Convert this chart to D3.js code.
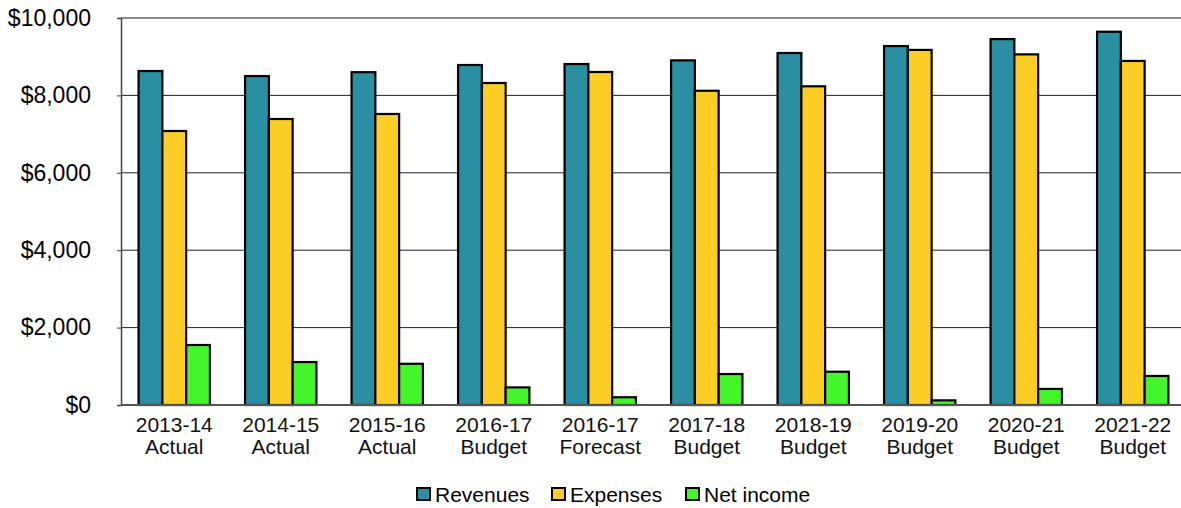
<!DOCTYPE html>
<html>
<head>
<meta charset="utf-8">
<script src="https://cdn.jsdelivr.net/npm/d3@7/dist/d3.min.js"></script>
<style>
  html, body { margin: 0; padding: 0; background: #fff; }
  svg { display: block; }
</style>
</head>
<body>
<div id="chart"></div>
<script>
// Fiscal years and their status
const years = ["2013-14", "2014-15", "2015-16", "2016-17", "2016-17", "2017-18", "2018-19", "2019-20", "2020-21", "2021-22"];
const statuses = ["Actual", "Actual", "Actual", "Budget", "Forecast", "Budget", "Budget", "Budget", "Budget", "Budget"];

// Values in $ millions
const revenues = [8630, 8500, 8600, 8785, 8810, 8905, 9095, 9275, 9455, 9645];
const expenses = [7080, 7390, 7520, 8320, 8605, 8120, 8235, 9175, 9060, 8890];
const netIncome = [1550, 1110, 1065, 455, 200, 800, 860, 120, 415, 750];

const seriesNames = ["Revenues", "Expenses", "Net income"];
const seriesColors = ["#2A8FA3", "#FCCD25", "#44F52C"];
const yTicks = [0, 2000, 4000, 6000, 8000, 10000];

const W = 1181, H = 508;
const margin = { left: 121, top: 18, bottom: 103 };
const plotW = 1065, plotH = H - margin.top - margin.bottom;

const svg = d3.select("#chart").append("svg")
  .attr("width", W).attr("height", H);

const g = svg.append("g").attr("transform", `translate(${margin.left},${margin.top})`);

const idx = d3.range(years.length);
const x0 = d3.scaleBand().domain(idx).range([0, plotW]).paddingInner(0.33).paddingOuter(0.165);
const x1 = d3.scaleBand().domain(seriesNames).range([0, x0.bandwidth()]);
const y = d3.scaleLinear().domain([0, 10000]).range([plotH, 0]);

// Horizontal gridlines
g.append("g").selectAll("line")
  .data(yTicks.filter(t => t > 0 && t < 10000))
  .join("line")
  .attr("x1", 0).attr("x2", plotW)
  .attr("y1", d => y(d)).attr("y2", d => y(d))
  .attr("stroke", "#222").attr("stroke-width", 1);

// Top border
g.append("line")
  .attr("x1", 0).attr("x2", plotW)
  .attr("y1", y(10000)).attr("y2", y(10000))
  .attr("stroke", "#8c8c8c").attr("stroke-width", 2);

// Y axis
const yAxis = g.append("g")
  .call(d3.axisLeft(y).tickValues(yTicks).tickSize(4).tickPadding(26)
    .tickFormat(d => "$" + d3.format(",")(d)));
yAxis.select(".domain").attr("stroke", "#444").attr("stroke-width", 1.5);
yAxis.selectAll(".tick line").attr("stroke", "#444");
yAxis.selectAll(".tick text")
  .attr("font-family", "Liberation Sans, Arial, sans-serif")
  .attr("font-size", 23).attr("fill", "#000");

// Bars
const table = idx.map(i => [revenues[i], expenses[i], netIncome[i]]);
const groups = g.append("g").selectAll("g")
  .data(table)
  .join("g")
  .attr("transform", (d, i) => `translate(${x0(i)},0)`);

groups.selectAll("rect")
  .data(d => d.map((v, k) => ({ v, k })))
  .join("rect")
  .attr("x", d => x1(seriesNames[d.k]))
  .attr("width", x1.bandwidth())
  .attr("y", d => y(d.v))
  .attr("height", d => y(0) - y(d.v))
  .attr("fill", d => seriesColors[d.k])
  .attr("stroke", "#000").attr("stroke-width", 2.2);

// Baseline
g.append("line")
  .attr("x1", 0).attr("x2", plotW)
  .attr("y1", y(0)).attr("y2", y(0))
  .attr("stroke", "#555").attr("stroke-width", 2);

// Category labels (two lines)
const xl = g.append("g").selectAll("text")
  .data(idx)
  .join("text")
  .attr("x", i => x0(i) + x0.bandwidth() / 2)
  .attr("y", plotH + 26.5)
  .attr("text-anchor", "middle")
  .attr("font-family", "Liberation Sans Narrow, Arial Narrow, sans-serif")
  .attr("font-size", 21).attr("fill", "#111");
xl.append("tspan").attr("x", i => x0(i) + x0.bandwidth() / 2).text(i => years[i]);
xl.append("tspan").attr("x", i => x0(i) + x0.bandwidth() / 2).attr("dy", 22).text(i => statuses[i]);

// Legend
const legendX = [417, 552, 686];
const leg = svg.append("g").selectAll("g")
  .data(seriesNames)
  .join("g")
  .attr("transform", (d, i) => `translate(${legendX[i]},494)`);
leg.append("rect")
  .attr("x", 0).attr("y", -6).attr("width", 13).attr("height", 12)
  .attr("fill", (d, i) => seriesColors[i])
  .attr("stroke", "#000").attr("stroke-width", 2);
leg.append("text")
  .attr("x", 18).attr("y", 7.5)
  .attr("font-family", "Liberation Sans, Arial, sans-serif")
  .attr("font-size", 21).attr("fill", "#000")
  .text(d => d);
</script>
</body>
</html>
